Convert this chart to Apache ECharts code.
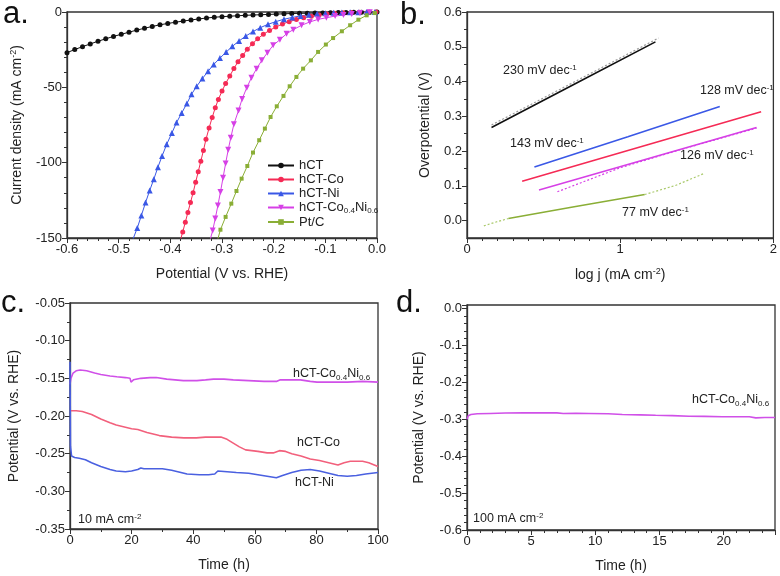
<!DOCTYPE html>
<html><head><meta charset="utf-8">
<script src="https://cdn.jsdelivr.net/npm/echarts@6/dist/echarts.min.js"></script>
<style>html,body{margin:0;padding:0;background:#fff}#c{width:780px;height:576px}</style>
</head><body><div id="c"></div>
<script>
// ---------- Panel a: LSV polarization curves [potential V, current density mA cm-2]
const lsvNames = ['hCT', 'hCT-Co', 'hCT-Ni', 'hCT-Co0.4Ni0.6', 'Pt/C'];
const lsvHCT = [[-0.600,-27.0],[-0.585,-24.9],[-0.570,-23.0],[-0.555,-21.2],[-0.540,-19.4],[-0.525,-17.8],[-0.510,-16.2],[-0.495,-14.8],[-0.480,-13.4],[-0.465,-12.0],[-0.450,-10.8],[-0.435,-9.6],[-0.420,-8.5],[-0.405,-7.6],[-0.390,-6.8],[-0.375,-6.0],[-0.360,-5.3],[-0.345,-4.6],[-0.330,-4.0],[-0.315,-3.5],[-0.300,-3.1],[-0.285,-2.8],[-0.270,-2.5],[-0.255,-2.2],[-0.240,-2.0],[-0.225,-1.8],[-0.210,-1.6],[-0.195,-1.4],[-0.180,-1.2],[-0.165,-1.0],[-0.150,-0.9],[-0.135,-0.8],[-0.120,-0.7],[-0.105,-0.6],[-0.090,-0.5],[-0.075,-0.4],[-0.060,-0.3],[-0.045,-0.2],[-0.030,-0.2],[-0.015,-0.1],[0.000,0.0]];
const lsvCo = [[-0.381,-152],[-0.376,-146],[-0.371,-139.5],[-0.366,-133],[-0.361,-126.5],[-0.356,-120],[-0.351,-113],[-0.346,-106],[-0.341,-99],[-0.336,-92],[-0.331,-84.5],[-0.325,-77],[-0.319,-70],[-0.313,-63.5],[-0.307,-58],[-0.300,-52.5],[-0.293,-47.5],[-0.285,-42.5],[-0.277,-37.5],[-0.269,-33],[-0.260,-28.8],[-0.251,-24.8],[-0.241,-21],[-0.231,-17.8],[-0.220,-14.8],[-0.208,-12.2],[-0.196,-10],[-0.183,-8],[-0.170,-6.4],[-0.156,-5],[-0.142,-3.8],[-0.127,-2.8],[-0.112,-2],[-0.097,-1.4],[-0.082,-0.9],[-0.066,-0.5],[-0.050,-0.3],[-0.034,-0.2],[-0.018,-0.1],[-0.002,0]];
const lsvNi = [[-0.476,-154],[-0.464,-143.4],[-0.456,-135],[-0.448,-126.5],[-0.440,-118.5],[-0.432,-111],[-0.424,-103],[-0.416,-95.6],[-0.407,-87.8],[-0.397,-80.3],[-0.388,-73.4],[-0.378,-67],[-0.368,-60.8],[-0.359,-54.6],[-0.349,-49.3],[-0.338,-44.2],[-0.327,-39.3],[-0.316,-34.8],[-0.304,-30.6],[-0.292,-26.6],[-0.280,-22.8],[-0.267,-19.2],[-0.254,-16.0],[-0.240,-13.0],[-0.226,-10.4],[-0.211,-8.2],[-0.196,-6.4],[-0.180,-4.8],[-0.164,-3.6],[-0.148,-2.6],[-0.132,-1.8],[-0.116,-1.2],[-0.100,-0.8],[-0.084,-0.5],[-0.068,-0.3],[-0.052,-0.2],[-0.036,-0.1],[-0.020,0],[-0.004,0]];
const lsvCoNi = [[-0.326,-155],[-0.318,-145],[-0.313,-137],[-0.308,-128.5],[-0.303,-119.5],[-0.298,-110],[-0.293,-100.5],[-0.288,-91.5],[-0.283,-83.4],[-0.277,-74.5],[-0.268,-65.3],[-0.261,-57.7],[-0.252,-50.2],[-0.243,-43.6],[-0.233,-37.6],[-0.223,-32.1],[-0.212,-27.0],[-0.201,-22.1],[-0.188,-18.4],[-0.175,-14.4],[-0.162,-11.7],[-0.146,-8.8],[-0.130,-6.6],[-0.114,-4.9],[-0.098,-3.8],[-0.081,-2.7],[-0.065,-2.0],[-0.049,-1.3],[-0.033,-0.7],[-0.014,-0.2]];
const lsvPtC = [[-0.310,-153],[-0.303,-144.5],[-0.293,-136],[-0.282,-127.2],[-0.272,-118.8],[-0.262,-110.6],[-0.251,-102.2],[-0.240,-93.3],[-0.228,-85.1],[-0.217,-77.4],[-0.206,-69.7],[-0.194,-62.6],[-0.181,-55.7],[-0.169,-49.3],[-0.156,-43.1],[-0.143,-37.6],[-0.128,-32.1],[-0.114,-26.5],[-0.099,-21.6],[-0.085,-17.3],[-0.068,-12.8],[-0.052,-8.8],[-0.036,-5.1],[-0.020,-2.2],[-0.004,-0.7]];

// ---------- Panel b: Tafel plots [log j, overpotential V]
const tafHCT = [[0.16,0.268],[0.70,0.392],[1.23,0.514]];
const tafHCTfit = [[0.16,0.275],[1.25,0.525]];
const tafNi = [[0.44,0.154],[1.05,0.241],[1.65,0.328]];
const tafCo = [[0.36,0.113],[1.14,0.213],[1.92,0.313]];
const tafCoNi = [[0.47,0.088],[1.18,0.178],[1.89,0.268]];
const tafCoNiFit = [[0.59,0.083],[1.0,0.152],[1.4,0.205],[1.89,0.266]];
const tafPtC = [[0.27,0.006],[0.70,0.040],[1.16,0.075]];
const tafPtCfitLow = [[0.11,-0.015],[0.19,-0.004],[0.27,0.006]];
const tafPtCfitHigh = [[1.16,0.075],[1.36,0.101],[1.55,0.136]];
const tafelSlopes = ['230', '128', '143', '126', '77'];

// ---------- Panel c: stability at 10 mA cm-2 [time h, potential V]
const stabCoNi = [[0,-0.158],[0.3,-0.150],[1,-0.143],[2,-0.140],[3.3,-0.139],[5.4,-0.140],[8,-0.143],[10,-0.145],[13,-0.147],[15.2,-0.148],[18,-0.149],[19.5,-0.150],[19.8,-0.155],[20.6,-0.152],[23,-0.150],[26,-0.149],[28,-0.149],[31.4,-0.151],[36.8,-0.153],[41.2,-0.153],[44,-0.152],[46.6,-0.151],[50,-0.151],[53,-0.152],[58,-0.153],[63,-0.154],[67.2,-0.154],[68.3,-0.152],[72,-0.152],[74.8,-0.152],[78,-0.154],[80.2,-0.155],[85.6,-0.155],[90,-0.155],[95,-0.154],[100,-0.155]];
const stabCo = [[0,-0.193],[2,-0.193],[4,-0.194],[7,-0.198],[10,-0.204],[13,-0.209],[15,-0.212],[18,-0.215],[20,-0.217],[22,-0.218],[25,-0.222],[29,-0.226],[33,-0.228],[37,-0.229],[41,-0.229],[44,-0.228],[47,-0.228],[49,-0.228],[51,-0.231],[53,-0.236],[55,-0.241],[57,-0.245],[61,-0.247],[64,-0.249],[66,-0.249],[68,-0.246],[70,-0.247],[72,-0.250],[75,-0.253],[78,-0.257],[81,-0.259],[84,-0.262],[87,-0.265],[89,-0.262],[91,-0.260],[95,-0.260],[97,-0.262],[100,-0.267]];
const stabNi = [[0,-0.128],[0.15,-0.240],[0.5,-0.253],[1.5,-0.255],[3,-0.256],[5,-0.258],[7,-0.262],[10,-0.267],[13,-0.271],[15,-0.273],[18,-0.274],[20,-0.273],[22,-0.271],[23,-0.269],[24,-0.270],[27,-0.270],[30,-0.270],[33,-0.272],[36,-0.275],[38,-0.277],[42,-0.278],[45,-0.278],[47,-0.277],[48,-0.273],[51,-0.274],[54,-0.275],[58,-0.276],[61,-0.278],[64,-0.280],[67,-0.282],[69,-0.279],[72,-0.275],[75,-0.272],[78,-0.271],[81,-0.273],[84,-0.276],[87,-0.279],[90,-0.280],[93,-0.279],[96,-0.277],[100,-0.275]];

// ---------- Panel d: stability at 100 mA cm-2
const stabHigh = [[0,-0.300],[0.1,-0.290],[0.3,-0.287],[0.8,-0.285],[1.8,-0.284],[3,-0.283],[4.4,-0.2825],[5.7,-0.282],[7,-0.2825],[7.5,-0.284],[8.5,-0.2835],[9.5,-0.284],[11,-0.285],[12.1,-0.287],[13.5,-0.288],[14.7,-0.289],[16,-0.290],[17.3,-0.2915],[18.5,-0.292],[19.9,-0.293],[21,-0.293],[22,-0.293],[22.5,-0.296],[23.2,-0.295],[24,-0.295]];

// ---------- Tick labels
const bMajorY = [0, 0.1, 0.2, 0.3, 0.4, 0.5, 0.6];
const bMinorY = [0.05, 0.15, 0.25, 0.35, 0.45, 0.55];

const FONT = '"Liberation Sans", Arial, Helvetica, sans-serif';
const TXT = '#222';
const C = {black:'#111111', red:'#f52a55', blue:'#3a58e6', mag:'#d640e6', green:'#8aae36',
           cMag:'#d050e8', cRed:'#f2607c', cBlue:'#4a60e0'};

const richBase = {
  n: {fontFamily: FONT, fontSize: 14, color: TXT},
  sup: {fontFamily: FONT, fontSize: 9, color: TXT, padding: [0, 0, 8, 0]},
  sub: {fontFamily: FONT, fontSize: 9, color: TXT, padding: [8, 0, 0, 0]}
};
const richSmall = {
  n: {fontFamily: FONT, fontSize: 13, color: TXT},
  sup: {fontFamily: FONT, fontSize: 8, color: TXT, padding: [0, 0, 7, 0]},
  sub: {fontFamily: FONT, fontSize: 8, color: TXT, padding: [6, 0, 0, 0]}
};

function ax(g, min, max, interval, minorSplit, fmt) {
  return {
    gridIndex: g, type: 'value', min: min, max: max, interval: interval,
    axisLine: {show: true, onZero: false, lineStyle: {color: '#333', width: 1.3}},
    axisTick: {show: true, inside: false, length: 5, lineStyle: {color: '#333', width: 1}},
    minorTick: {show: minorSplit > 1, splitNumber: minorSplit, length: 3, lineStyle: {color: '#333', width: 1}},
    splitLine: {show: false}, minorSplitLine: {show: false},
    axisLabel: {fontFamily: FONT, fontSize: 13, color: TXT, margin: 5, formatter: fmt},
    nameLocation: 'middle',
    nameTextStyle: {fontFamily: FONT, fontSize: 14, color: TXT, rich: richBase}
  };
}
const f0 = v => String(Math.round(v));
const f1 = v => v.toFixed(1);
const f2 = v => v.toFixed(2);

// axes
const xA = Object.assign(ax(0, -0.6, 0, 0.1, 5, f1), {name: 'Potential (V vs. RHE)', nameGap: 29});
const yA = Object.assign(ax(0, -150, 0, 50, 5, f0), {name: '{n|Current density (mA cm}{sup|-2}{n|)}', nameGap: 41});
const xB = Object.assign(ax(1, 0, 2, 1, 10, f0), {name: '{n|log j (mA cm}{sup|-2}{n|)}', nameGap: 29});
const yB = Object.assign(ax(1, -0.05, 0.6, 0.05, 1, f1), {name: 'Overpotential (V)', nameGap: 35});
yB.axisLabel.customValues = bMajorY;
yB.axisTick.customValues = bMajorY;
const yB2 = {gridIndex: 1, type: 'value', min: -0.05, max: 0.6, interval: 0.05, position: 'left',
  axisLine: {show: false}, axisLabel: {show: false}, splitLine: {show: false},
  axisTick: {show: true, length: 3, customValues: bMinorY, lineStyle: {color: '#333'}}};
const xC = Object.assign(ax(2, 0, 100, 20, 2, f0), {name: 'Time (h)', nameGap: 29});
const yC = Object.assign(ax(2, -0.35, -0.05, 0.05, 2, f2), {name: 'Potential (V vs. RHE)', nameGap: 49});
const xD = Object.assign(ax(3, 0, 24, 5, 5, f0), {name: 'Time (h)', nameGap: 29});
xD.axisLabel.showMaxLabel = false;
const yD = Object.assign(ax(3, -0.6, 0.01, 0.1, 5, f1), {name: 'Potential (V vs. RHE)', nameGap: 41});
yD.axisLabel.showMaxLabel = false;

function line(name, xi, yi, data, color, extra) {
  return Object.assign({
    name: name, type: 'line', xAxisIndex: xi, yAxisIndex: yi, data: data,
    symbol: 'none', clip: true, animation: false,
    lineStyle: {color: color, width: 1.6}, itemStyle: {color: color}
  }, extra || {});
}
function lsv(name, data, color, sym, size) {
  return line(name, 0, 0, data, color, {symbol: sym, symbolSize: size, showSymbol: true,
    lineStyle: {color: color, width: 1}});
}
const downTri = 'path://M0,0L10,0L5,9Z';

const series = [
  lsv(lsvNames[0], lsvHCT, C.black, 'circle', 5),
  lsv(lsvNames[1], lsvCo, C.red, 'circle', 5),
  lsv(lsvNames[2], lsvNi, C.blue, 'triangle', 6),
  lsv(lsvNames[3], lsvCoNi, C.mag, downTri, 6),
  lsv(lsvNames[4], lsvPtC, C.green, 'rect', 4),
  line('b1f', 1, 1, tafHCTfit, '#9a9a9a', {lineStyle: {color: '#9a9a9a', width: 1.2, type: [2, 2]}}),
  line('b1', 1, 1, tafHCT, C.black),
  line('b2', 1, 1, tafNi, C.blue),
  line('b3', 1, 1, tafCo, C.red),
  line('b4f', 1, 1, tafCoNiFit, C.mag, {lineStyle: {color: C.mag, width: 1.2, type: [2, 2]}}),
  line('b4', 1, 1, tafCoNi, C.mag),
  line('b5', 1, 1, tafPtC, C.green),
  line('b5f', 1, 1, tafPtCfitLow, '#a9c96a', {lineStyle: {color: '#a9c96a', width: 1.2, type: [2, 2]}}),
  line('b5g', 1, 1, tafPtCfitHigh, '#a9c96a', {lineStyle: {color: '#a9c96a', width: 1.2, type: [2, 2]}}),
  line('c1', 2, 3, stabCoNi, C.cMag),
  line('c2', 2, 3, stabCo, C.cRed),
  line('c3', 2, 3, stabNi, C.cBlue),
  line('d1', 3, 4, stabHigh, C.cMag)
];

function gtext(x, y, text, rich) {
  return {type: 'text', x: x, y: y, silent: true,
    style: {text: text, rich: rich, fill: TXT, fontFamily: FONT, fontSize: 13, align: 'left', verticalAlign: 'middle'}};
}
const letter = (x, y, s) => ({type: 'text', x: x, y: y, silent: true,
  style: {text: s, fill: '#111', fontFamily: FONT, fontSize: 31, align: 'left', verticalAlign: 'bottom'}});

const richAnn = {
  n: {fontFamily: FONT, fontSize: 12.5, color: TXT},
  sup: {fontFamily: FONT, fontSize: 8, color: TXT, padding: [0, 0, 7, 0]},
  sub: {fontFamily: FONT, fontSize: 8, color: TXT, padding: [7, 0, 0, 0]}
};
const slopeText = s => '{n|' + s + ' mV dec}{sup|-1}';
const coniText = '{n|hCT-Co}{sub|0.4}{n|Ni}{sub|0.6}';

const graphics = [
  letter(3, 30, 'a.'), letter(400, 31, 'b.'), letter(1, 319, 'c.'), letter(396, 319, 'd.'),
  gtext(503, 71, slopeText(tafelSlopes[0]), richAnn),
  gtext(700, 91, slopeText(tafelSlopes[1]), richAnn),
  gtext(510, 144, slopeText(tafelSlopes[2]), richAnn),
  gtext(680, 156, slopeText(tafelSlopes[3]), richAnn),
  gtext(622, 213, slopeText(tafelSlopes[4]), richAnn),
  gtext(293, 374, coniText, richAnn),
  gtext(297, 443, '{n|hCT-Co}', richAnn),
  gtext(295, 483, '{n|hCT-Ni}', richAnn),
  gtext(78, 520, '{n|10 mA cm}{sup|-2}', richAnn),
  gtext(692, 400, coniText, richAnn),
  gtext(473, 519, '{n|100 mA cm}{sup|-2}', richAnn)
];

const option = {
  backgroundColor: '#fff',
  animation: false,
  textStyle: {fontFamily: FONT},
  grid: [
    {left: 67, top: 12, width: 310, height: 226, show: true, borderColor: '#333', borderWidth: 1.3},
    {left: 467, top: 12, width: 308, height: 226, show: true, borderColor: '#333', borderWidth: 1.3},
    {left: 70, top: 303, width: 308, height: 226, show: true, borderColor: '#333', borderWidth: 1.3},
    {left: 467, top: 305, width: 308, height: 225, show: true, borderColor: '#333', borderWidth: 1.3}
  ],
  xAxis: [xA, xB, xC, xD],
  yAxis: [yA, yB, yB2, yC, yD],
  legend: {
    data: lsvNames, orient: 'vertical', left: 262, top: 154, itemGap: 1,
    itemWidth: 26, itemHeight: 7, selectedMode: false,
    textStyle: {fontFamily: FONT, fontSize: 13, color: TXT, rich: richSmall},
    formatter: name => name === lsvNames[3] ? '{n|hCT-Co}{sub|0.4}{n|Ni}{sub|0.6}' : '{n|' + name + '}'
  },
  graphic: graphics,
  series: series
};
const chart = echarts.init(document.getElementById('c'), null, {renderer: 'canvas'});
chart.setOption(option);
</script></body></html>
